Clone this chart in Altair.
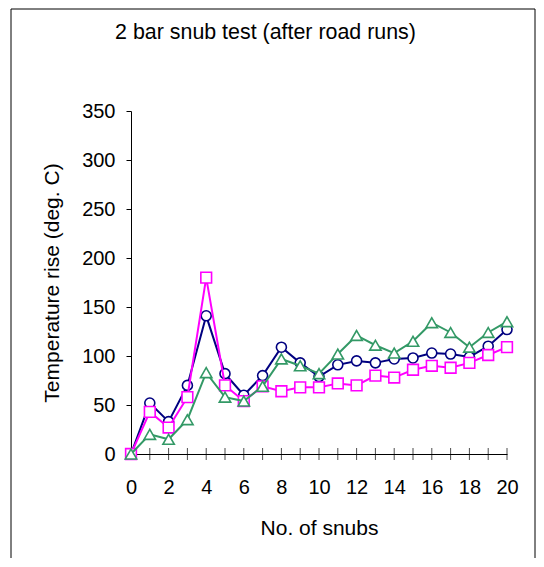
import altair as alt
import pandas as pd

# ---- data ----
snubs = list(range(0, 21))
series_navy = [0, 52, 33, 70, 141, 82, 60, 80, 109, 93, 79, 91, 95, 93, 97, 98, 103, 102, 99, 110, 127]
series_magenta = [0, 43, 27, 58, 180, 70, 54, 69, 64, 68, 68, 72, 70, 80, 78, 86, 90, 88, 93, 101, 109]
series_green = [0, 20, 15, 35, 83, 58, 54, 69, 97, 90, 82, 102, 121, 111, 103, 115, 134, 124, 109, 124, 135]
y_tick_values = [0, 50, 100, 150, 200, 250, 300, 350]
x_label_values = [0, 2, 4, 6, 8, 10, 12, 14, 16, 18, 20]
x_tick_values = list(range(0, 21))

title_text = "2 bar snub test (after road runs)"
x_title = "No. of snubs"
y_title = "Temperature rise (deg. C)"

FONT = "Liberation Sans"
W, H = 376, 343

x_scale = alt.Scale(domain=[0, 20], nice=False, zero=False)
y_scale = alt.Scale(domain=[0, 350], nice=False)

x_axis = alt.Axis(values=x_label_values, title=x_title, grid=False, ticks=False, tickSize=0,
                  domainColor="black", domainWidth=1, labelFont=FONT, labelFontSize=20,
                  labelColor="black", labelPadding=39, labelBaseline="alphabetic",
                  labelFlush=False, labelOverlap=False,
                  titleFont=FONT, titleFontSize=21, titleFontWeight="normal", titleColor="black",
                  titleX=W / 2, titleY=80, titleBaseline="alphabetic", titleAlign="center")
y_axis = alt.Axis(values=y_tick_values, title=y_title, grid=False, ticks=True, tickSize=5,
                  tickColor="black", domainColor="black", domainWidth=1, labelFont=FONT,
                  labelFontSize=20, labelColor="black", labelPadding=11,
                  labelFlush=False, labelOverlap=False,
                  titleFont=FONT, titleFontSize=21, titleFontWeight="normal", titleColor="black",
                  titleX=-73, titleY=H / 2, titleBaseline="alphabetic", titleAlign="center",
                  titleAngle=270)


def series_layer(values, color, shape, size):
    df = pd.DataFrame({"snubs": snubs, "rise": values})
    base = alt.Chart(df).encode(
        x=alt.X("snubs:Q", scale=x_scale, axis=x_axis),
        y=alt.Y("rise:Q", scale=y_scale, axis=y_axis),
    )
    line = base.mark_line(color=color, strokeWidth=2)
    pts = base.mark_point(shape=shape, size=size, filled=True, fill="white", stroke=color,
                          strokeWidth=1.6, opacity=1)
    return line + pts


navy = series_layer(series_navy, "#000080", "circle", 100)
magenta = series_layer(series_magenta, "#FF00FF", "square", 115)
green = series_layer(series_green, "#339966", "triangle-up", 130)

ticks_df = pd.DataFrame({"t": x_tick_values})
xticks = alt.Chart(ticks_df).mark_tick(orient="vertical", color="black", size=12, thickness=1).encode(
    x=alt.X("t:Q", scale=x_scale, axis=x_axis),
    y=alt.value(H),
)

one = pd.DataFrame({"k": [0]})
frame = alt.Chart(one).mark_rect(fillOpacity=0, stroke="black", strokeWidth=1).encode(
    x=alt.value(-120), x2=alt.value(404), y=alt.value(-102), y2=alt.value(480)
)
title = alt.Chart(one).mark_text(font=FONT, fontSize=21.4, color="black", align="center",
                                 baseline="alphabetic").encode(
    x=alt.value(134.5), y=alt.value(-72), text=alt.value(title_text)
)

chart = alt.layer(frame, title, xticks, navy, magenta, green).properties(
    width=W, height=H,
    autosize=alt.AutoSizeParams(type="none"),
    padding={"left": 123, "top": 103, "right": 29, "bottom": 104},
    background="white",
).configure_view(stroke=None)

chart.save("out.html", embed_options={"renderer": "svg", "actions": False})
